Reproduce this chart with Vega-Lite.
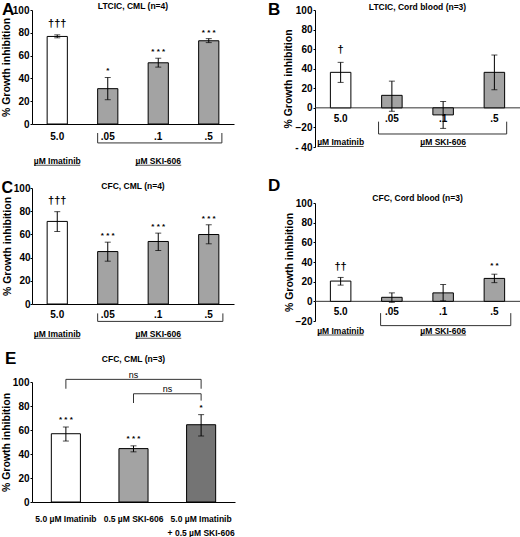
{
  "$schema": "https://vega.github.io/schema/vega-lite/v6.json",
  "padding": {"left": 1, "top": 0, "right": 0, "bottom": 0},
  "config": {
    "font": "Liberation Sans",
    "view": {"stroke": null},
    "axis": {"grid": false, "domainColor": "black", "tickColor": "black", "labelColor": "black", "titleColor": "black", "labelFontWeight": "bold", "titleFontWeight": "bold", "labelFontSize": 10, "titleFontSize": 10.5, "labelOverlap": false},
    "axisY": {"tickSize": 2, "labelPadding": 1, "titlePadding": 1, "tickCount": 20},
    "axisX": {"ticks": false, "labelAngle": 0, "labelFontSize": 10},
    "title": {"fontSize": 8.5, "fontWeight": "bold", "color": "black"},
    "text": {"color": "black"}
  },
  "datasets": {
    "panels": [{"panel": "A"}, {"panel": "B"}, {"panel": "C"}, {"panel": "D"}, {"panel": "E"}],
    "groups": [{"group": "µM Imatinib", "dose": "5.0"}, {"group": "µM SKI-606", "dose": ".1"}],
    "A": [
      {"dose": "5.0", "drug": "Imatinib", "value": 76.8, "lo": 75.6, "hi": 78.2, "sig": "†††"},
      {"dose": ".05", "drug": "SKI-606", "value": 31, "lo": 21.3, "hi": 40.8, "sig": "*"},
      {"dose": ".1", "drug": "SKI-606", "value": 53.7, "lo": 49.9, "hi": 57.7, "sig": "* * *"},
      {"dose": ".5", "drug": "SKI-606", "value": 73, "lo": 71.4, "hi": 74.9, "sig": "* * *"}
    ],
    "B": [
      {"dose": "5.0", "drug": "Imatinib", "value": 36.3, "lo": 26, "hi": 46.5, "sig": "†"},
      {"dose": ".05", "drug": "SKI-606", "value": 12.8, "lo": -3.5, "hi": 27.3, "sig": ""},
      {"dose": ".1", "drug": "SKI-606", "value": -7.2, "lo": -21, "hi": 6.5, "sig": ""},
      {"dose": ".5", "drug": "SKI-606", "value": 36.3, "lo": 18.5, "hi": 54, "sig": ""}
    ],
    "C": [
      {"dose": "5.0", "drug": "Imatinib", "value": 71.2, "lo": 62.5, "hi": 79.6, "sig": "†††"},
      {"dose": ".05", "drug": "SKI-606", "value": 45.2, "lo": 36.9, "hi": 53.3, "sig": "* * *"},
      {"dose": ".1", "drug": "SKI-606", "value": 53.9, "lo": 46.1, "hi": 61.1, "sig": "* * *"},
      {"dose": ".5", "drug": "SKI-606", "value": 59.9, "lo": 51.9, "hi": 68.3, "sig": "* * *"}
    ],
    "D": [
      {"dose": "5.0", "drug": "Imatinib", "value": 20.6, "lo": 16.5, "hi": 24.3, "sig": "††"},
      {"dose": ".05", "drug": "SKI-606", "value": 4.1, "lo": -1, "hi": 8.6, "sig": ""},
      {"dose": ".1", "drug": "SKI-606", "value": 8.6, "lo": 0.5, "hi": 17.1, "sig": ""},
      {"dose": ".5", "drug": "SKI-606", "value": 23.3, "lo": 19, "hi": 27.6, "sig": "* *"}
    ],
    "E": [
      {"treatment": "5.0 µM Imatinib", "drug": "Imatinib", "value": 56.9, "lo": 50.8, "hi": 62.5, "sig": "* * *"},
      {"treatment": "0.5 µM SKI-606", "drug": "SKI-606", "value": 44.5, "lo": 41.8, "hi": 46.8, "sig": "* * *"},
      {"treatment": "5.0 µM Imatinib + 0.5 µM SKI-606", "drug": "Combination", "value": 64.4, "lo": 55, "hi": 72.8, "sig": "*"}
    ],
    "ns": [
      {"pair": "upper", "from": "5.0 µM Imatinib", "to": "5.0 µM Imatinib + 0.5 µM SKI-606", "label": "ns"},
      {"pair": "lower", "from": "0.5 µM SKI-606", "to": "5.0 µM Imatinib + 0.5 µM SKI-606", "label": "ns"}
    ]
  },
  "spacing": 11,
  "vconcat": [
    {
      "spacing": 33,
      "hconcat": [
        {
          "width": 202,
          "height": 114,
          "title": {"text": "LTCIC, CML (n=4)", "offset": -10},
          "layer": [
            {
              "data": {"name": "A"},
              "mark": {"type": "bar", "stroke": "black", "strokeWidth": 1},
              "encoding": {
                "x": {"field": "dose", "type": "nominal", "scale": {"domain": ["5.0", ".05", ".1", ".5"], "paddingInner": 0.6, "paddingOuter": 0.3}, "axis": {"title": null, "labelPadding": 7}},
                "y": {"field": "value", "type": "quantitative", "title": "% Growth inhibition", "scale": {"domain": [0, 100], "nice": false}, "axis": {"values": [0, 20, 40, 60, 80, 100], "tickCount": 20}},
                "fill": {"field": "drug", "type": "nominal", "scale": {"domain": ["Imatinib", "SKI-606", "Combination"], "range": ["white", "#a3a3a3", "#747474"]}, "legend": null}
              }
            },
            {
              "data": {"name": "A"},
              "mark": {"type": "errorbar", "ticks": true, "size": 6, "thickness": 1, "color": "black"},
              "encoding": {"x": {"field": "dose", "type": "nominal"}, "y": {"field": "lo", "type": "quantitative", "title": "% Growth inhibition"}, "y2": {"field": "hi"}}
            },
            {
              "data": {"name": "A"},
              "transform": [{"filter": "indexof(datum.sig, '†') >= 0"}],
              "mark": {"type": "text", "fontSize": 11, "fontWeight": "bold", "baseline": "middle", "dy": -11},
              "encoding": {"x": {"field": "dose", "type": "nominal"}, "y": {"field": "hi", "type": "quantitative", "title": "% Growth inhibition"}, "text": {"field": "sig"}}
            },
            {
              "data": {"name": "A"},
              "transform": [{"filter": "indexof(datum.sig, '*') >= 0"}],
              "mark": {"type": "text", "fontSize": 8, "fontWeight": "bold", "baseline": "middle", "dy": -6},
              "encoding": {"x": {"field": "dose", "type": "nominal"}, "y": {"field": "hi", "type": "quantitative", "title": "% Growth inhibition"}, "text": {"field": "sig"}}
            },
            {
              "data": {"name": "panels"},
              "transform": [{"filter": "datum.panel == 'A'"}],
              "mark": {"type": "text", "fontSize": 17, "fontWeight": "bold", "align": "left", "baseline": "alphabetic", "dx": -45.2, "dy": 4.5},
              "encoding": {"x": {"datum": "5.0", "type": "nominal", "bandPosition": 0}, "y": {"datum": 100}, "text": {"field": "panel"}}
            },
            {
              "data": {"name": "panels"},
              "transform": [{"filter": "datum.panel == 'A'"}],
              "mark": {"type": "rule", "color": "#333"},
              "encoding": {"x": {"datum": ".05", "type": "nominal", "bandPosition": 0}, "x2": {"datum": ".5", "bandPosition": 1.15}, "y": {"datum": -16.6}}
            },
            {
              "data": {"name": "panels"},
              "transform": [{"filter": "datum.panel == 'A'"}],
              "mark": {"type": "rule", "color": "#333"},
              "encoding": {"x": {"datum": ".05", "type": "nominal", "bandPosition": 0}, "y": {"datum": -7.9}, "y2": {"datum": -16.6}}
            },
            {
              "data": {"name": "panels"},
              "transform": [{"filter": "datum.panel == 'A'"}],
              "mark": {"type": "rule", "color": "#333"},
              "encoding": {"x": {"datum": ".5", "type": "nominal", "bandPosition": 1.15}, "y": {"datum": -7.9}, "y2": {"datum": -16.6}}
            },
            {
              "data": {"name": "groups"},
              "mark": {"type": "text", "fontSize": 8.5, "fontWeight": "bold", "baseline": "middle"},
              "encoding": {"x": {"field": "dose", "type": "nominal"}, "y": {"datum": -32.1}, "text": {"field": "group"}}
            },
            {
              "data": {"name": "groups"},
              "mark": {"type": "tick", "size": 46, "thickness": 1, "color": "black"},
              "encoding": {"x": {"field": "dose", "type": "nominal"}, "y": {"datum": -36.2}}
            }
          ]
        },
        {
          "width": 205,
          "height": 137,
          "title": {"text": "LTCIC, Cord blood (n=3)", "offset": -10},
          "layer": [
            {
              "data": {"name": "panels"},
              "transform": [{"filter": "datum.panel == 'B'"}],
              "mark": {"type": "rule", "color": "#333"},
              "encoding": {"y": {"datum": 0}}
            },
            {
              "data": {"name": "B"},
              "mark": {"type": "bar", "stroke": "black", "strokeWidth": 1},
              "encoding": {
                "x": {"field": "dose", "type": "nominal", "scale": {"domain": ["5.0", ".05", ".1", ".5"], "paddingInner": 0.6, "paddingOuter": 0.3}, "axis": null},
                "y": {"field": "value", "type": "quantitative", "title": "% Growth inhibition", "scale": {"domain": [-40, 100], "nice": false}, "axis": {"values": [-40, -20, 0, 20, 40, 60, 80, 100], "tickCount": 20, "labelExpr": "datum.value == -40 ? '- 40' : datum.label"}},
                "fill": {"field": "drug", "type": "nominal", "scale": {"domain": ["Imatinib", "SKI-606", "Combination"], "range": ["white", "#a3a3a3", "#747474"]}, "legend": null}
              }
            },
            {
              "data": {"name": "B"},
              "mark": {"type": "errorbar", "ticks": true, "size": 6, "thickness": 1, "color": "black"},
              "encoding": {"x": {"field": "dose", "type": "nominal"}, "y": {"field": "lo", "type": "quantitative", "title": "% Growth inhibition"}, "y2": {"field": "hi"}}
            },
            {
              "data": {"name": "B"},
              "transform": [{"filter": "indexof(datum.sig, '†') >= 0"}],
              "mark": {"type": "text", "fontSize": 11, "fontWeight": "bold", "baseline": "middle", "dy": -12},
              "encoding": {"x": {"field": "dose", "type": "nominal"}, "y": {"field": "hi", "type": "quantitative", "title": "% Growth inhibition"}, "text": {"field": "sig"}}
            },
            {
              "data": {"name": "B"},
              "mark": {"type": "text", "fontSize": 10, "fontWeight": "bold", "baseline": "middle", "dy": 11},
              "encoding": {"x": {"field": "dose", "type": "nominal"}, "y": {"datum": 0}, "text": {"field": "dose"}}
            },
            {
              "data": {"name": "panels"},
              "transform": [{"filter": "datum.panel == 'B'"}],
              "mark": {"type": "text", "fontSize": 17, "fontWeight": "bold", "align": "left", "baseline": "alphabetic", "dx": -62.4, "dy": 5},
              "encoding": {"x": {"datum": "5.0", "type": "nominal", "bandPosition": 0}, "y": {"datum": 100}, "text": {"field": "panel"}}
            },
            {
              "data": {"name": "panels"},
              "transform": [{"filter": "datum.panel == 'B'"}],
              "mark": {"type": "rule", "color": "#333"},
              "encoding": {"x": {"datum": ".05", "type": "nominal", "bandPosition": -0.15}, "x2": {"datum": ".5", "bandPosition": 1.1}, "y": {"datum": -26.7}}
            },
            {
              "data": {"name": "panels"},
              "transform": [{"filter": "datum.panel == 'B'"}],
              "mark": {"type": "rule", "color": "#333"},
              "encoding": {"x": {"datum": ".05", "type": "nominal", "bandPosition": -0.15}, "y": {"datum": -14.1}, "y2": {"datum": -26.7}}
            },
            {
              "data": {"name": "panels"},
              "transform": [{"filter": "datum.panel == 'B'"}],
              "mark": {"type": "rule", "color": "#333"},
              "encoding": {"x": {"datum": ".5", "type": "nominal", "bandPosition": 1.1}, "y": {"datum": -14.1}, "y2": {"datum": -26.7}}
            },
            {
              "data": {"name": "groups"},
              "mark": {"type": "text", "fontSize": 8.5, "fontWeight": "bold", "baseline": "middle"},
              "encoding": {"x": {"field": "dose", "type": "nominal"}, "y": {"datum": -34.6}, "text": {"field": "group"}}
            },
            {
              "data": {"name": "groups"},
              "mark": {"type": "tick", "size": 46, "thickness": 1, "color": "black"},
              "encoding": {"x": {"field": "dose", "type": "nominal"}, "y": {"datum": -39.4}}
            }
          ]
        }
      ]
    },
    {
      "spacing": 33,
      "hconcat": [
        {
          "width": 202,
          "height": 116,
          "title": {"text": "CFC, CML (n=4)", "offset": -10},
          "layer": [
            {
              "data": {"name": "C"},
              "mark": {"type": "bar", "stroke": "black", "strokeWidth": 1},
              "encoding": {
                "x": {"field": "dose", "type": "nominal", "scale": {"domain": ["5.0", ".05", ".1", ".5"], "paddingInner": 0.6, "paddingOuter": 0.3}, "axis": {"title": null, "labelPadding": 5}},
                "y": {"field": "value", "type": "quantitative", "title": "% Growth inhibition", "scale": {"domain": [0, 100], "nice": false}, "axis": {"values": [0, 20, 40, 60, 80, 100], "tickCount": 20, "labelPadding": 0}},
                "fill": {"field": "drug", "type": "nominal", "scale": {"domain": ["Imatinib", "SKI-606", "Combination"], "range": ["white", "#a3a3a3", "#747474"]}, "legend": null}
              }
            },
            {
              "data": {"name": "C"},
              "mark": {"type": "errorbar", "ticks": true, "size": 6, "thickness": 1, "color": "black"},
              "encoding": {"x": {"field": "dose", "type": "nominal"}, "y": {"field": "lo", "type": "quantitative", "title": "% Growth inhibition"}, "y2": {"field": "hi"}}
            },
            {
              "data": {"name": "C"},
              "transform": [{"filter": "indexof(datum.sig, '†') >= 0"}],
              "mark": {"type": "text", "fontSize": 11, "fontWeight": "bold", "baseline": "middle", "dy": -11},
              "encoding": {"x": {"field": "dose", "type": "nominal"}, "y": {"field": "hi", "type": "quantitative", "title": "% Growth inhibition"}, "text": {"field": "sig"}}
            },
            {
              "data": {"name": "C"},
              "transform": [{"filter": "indexof(datum.sig, '*') >= 0"}],
              "mark": {"type": "text", "fontSize": 8, "fontWeight": "bold", "baseline": "middle", "dy": -6},
              "encoding": {"x": {"field": "dose", "type": "nominal"}, "y": {"field": "hi", "type": "quantitative", "title": "% Growth inhibition"}, "text": {"field": "sig"}}
            },
            {
              "data": {"name": "panels"},
              "transform": [{"filter": "datum.panel == 'C'"}],
              "mark": {"type": "text", "fontSize": 16, "fontWeight": "bold", "align": "left", "baseline": "alphabetic", "dx": -45.65, "dy": 5},
              "encoding": {"x": {"datum": "5.0", "type": "nominal", "bandPosition": 0}, "y": {"datum": 100}, "text": {"field": "panel"}}
            },
            {
              "data": {"name": "panels"},
              "transform": [{"filter": "datum.panel == 'C'"}],
              "mark": {"type": "rule", "color": "#333"},
              "encoding": {"x": {"datum": ".05", "type": "nominal", "bandPosition": 0}, "x2": {"datum": ".5", "bandPosition": 1.2}, "y": {"datum": -15}}
            },
            {
              "data": {"name": "panels"},
              "transform": [{"filter": "datum.panel == 'C'"}],
              "mark": {"type": "rule", "color": "#333"},
              "encoding": {"x": {"datum": ".05", "type": "nominal", "bandPosition": 0}, "y": {"datum": -8.1}, "y2": {"datum": -15}}
            },
            {
              "data": {"name": "panels"},
              "transform": [{"filter": "datum.panel == 'C'"}],
              "mark": {"type": "rule", "color": "#333"},
              "encoding": {"x": {"datum": ".5", "type": "nominal", "bandPosition": 1.2}, "y": {"datum": -8.1}, "y2": {"datum": -15}}
            },
            {
              "data": {"name": "groups"},
              "mark": {"type": "text", "fontSize": 8.5, "fontWeight": "bold", "baseline": "middle"},
              "encoding": {"x": {"field": "dose", "type": "nominal"}, "y": {"datum": -26}, "text": {"field": "group"}}
            },
            {
              "data": {"name": "groups"},
              "mark": {"type": "tick", "size": 46, "thickness": 1, "color": "black"},
              "encoding": {"x": {"field": "dose", "type": "nominal"}, "y": {"datum": -29.6}}
            }
          ]
        },
        {
          "width": 205,
          "height": 133,
          "title": {"text": "CFC, Cord blood (n=3)", "offset": -25},
          "layer": [
            {
              "data": {"name": "panels"},
              "transform": [{"filter": "datum.panel == 'D'"}],
              "mark": {"type": "rule", "color": "#333"},
              "encoding": {"y": {"datum": 0}}
            },
            {
              "data": {"name": "D"},
              "mark": {"type": "bar", "stroke": "black", "strokeWidth": 1},
              "encoding": {
                "x": {"field": "dose", "type": "nominal", "scale": {"domain": ["5.0", ".05", ".1", ".5"], "paddingInner": 0.6, "paddingOuter": 0.3}, "axis": null},
                "y": {"field": "value", "type": "quantitative", "title": "% Growth inhibition", "scale": {"domain": [-20, 100], "nice": false, "range": [133, 15]}, "axis": {"values": [-20, 0, 20, 40, 60, 80, 100], "tickCount": 20}},
                "fill": {"field": "drug", "type": "nominal", "scale": {"domain": ["Imatinib", "SKI-606", "Combination"], "range": ["white", "#a3a3a3", "#747474"]}, "legend": null}
              }
            },
            {
              "data": {"name": "D"},
              "mark": {"type": "errorbar", "ticks": true, "size": 6, "thickness": 1, "color": "black"},
              "encoding": {"x": {"field": "dose", "type": "nominal"}, "y": {"field": "lo", "type": "quantitative", "title": "% Growth inhibition"}, "y2": {"field": "hi"}}
            },
            {
              "data": {"name": "D"},
              "transform": [{"filter": "indexof(datum.sig, '†') >= 0"}],
              "mark": {"type": "text", "fontSize": 11, "fontWeight": "bold", "baseline": "middle", "dy": -10},
              "encoding": {"x": {"field": "dose", "type": "nominal"}, "y": {"field": "hi", "type": "quantitative", "title": "% Growth inhibition"}, "text": {"field": "sig"}}
            },
            {
              "data": {"name": "D"},
              "transform": [{"filter": "indexof(datum.sig, '*') >= 0"}],
              "mark": {"type": "text", "fontSize": 8, "fontWeight": "bold", "baseline": "middle", "dy": -8},
              "encoding": {"x": {"field": "dose", "type": "nominal"}, "y": {"field": "hi", "type": "quantitative", "title": "% Growth inhibition"}, "text": {"field": "sig"}}
            },
            {
              "data": {"name": "D"},
              "mark": {"type": "text", "fontSize": 10, "fontWeight": "bold", "baseline": "middle", "dy": 10.6},
              "encoding": {"x": {"field": "dose", "type": "nominal"}, "y": {"datum": 0}, "text": {"field": "dose"}}
            },
            {
              "data": {"name": "panels"},
              "transform": [{"filter": "datum.panel == 'D'"}],
              "mark": {"type": "text", "fontSize": 17, "fontWeight": "bold", "align": "left", "baseline": "alphabetic", "dx": -62.4, "dy": -12},
              "encoding": {"x": {"datum": "5.0", "type": "nominal", "bandPosition": 0}, "y": {"datum": 100}, "text": {"field": "panel"}}
            },
            {
              "data": {"name": "panels"},
              "transform": [{"filter": "datum.panel == 'D'"}],
              "mark": {"type": "rule", "color": "#333"},
              "encoding": {"x": {"datum": ".05", "type": "nominal", "bandPosition": -0.05}, "x2": {"datum": ".5", "bandPosition": 1.3}, "y": {"datum": -24.7}}
            },
            {
              "data": {"name": "panels"},
              "transform": [{"filter": "datum.panel == 'D'"}],
              "mark": {"type": "rule", "color": "#333"},
              "encoding": {"x": {"datum": ".05", "type": "nominal", "bandPosition": -0.05}, "y": {"datum": -12}, "y2": {"datum": -24.7}}
            },
            {
              "data": {"name": "panels"},
              "transform": [{"filter": "datum.panel == 'D'"}],
              "mark": {"type": "rule", "color": "#333"},
              "encoding": {"x": {"datum": ".5", "type": "nominal", "bandPosition": 1.3}, "y": {"datum": -12}, "y2": {"datum": -24.7}}
            },
            {
              "data": {"name": "groups"},
              "mark": {"type": "text", "fontSize": 8.5, "fontWeight": "bold", "baseline": "middle"},
              "encoding": {"x": {"field": "dose", "type": "nominal"}, "y": {"datum": -30.1}, "text": {"field": "group"}}
            },
            {
              "data": {"name": "groups"},
              "mark": {"type": "tick", "size": 46, "thickness": 1, "color": "black"},
              "encoding": {"x": {"field": "dose", "type": "nominal"}, "y": {"datum": -34.2}}
            }
          ]
        }
      ]
    },
    {
      "width": 203,
      "height": 120,
      "title": {"text": "CFC, CML (n=3)", "offset": -13},
      "layer": [
        {
          "data": {"name": "E"},
          "mark": {"type": "bar", "stroke": "black", "strokeWidth": 1},
          "encoding": {
            "x": {"field": "treatment", "type": "nominal", "scale": {"domain": ["5.0 µM Imatinib", "0.5 µM SKI-606", "5.0 µM Imatinib + 0.5 µM SKI-606"], "paddingInner": 0.57, "paddingOuter": 0.286}, "axis": {"title": null, "labelPadding": 12, "labelFontSize": 8.5, "labelLineHeight": 14.5, "labelExpr": "indexof(datum.label, ' + ') > 0 ? [substring(datum.label, 0, indexof(datum.label, ' + ')), substring(datum.label, indexof(datum.label, ' + ') + 1)] : datum.label"}},
            "y": {"field": "value", "type": "quantitative", "title": "% Growth inhibition", "scale": {"domain": [0, 100], "nice": false}, "axis": {"values": [0, 20, 40, 60, 80, 100], "tickCount": 20}},
            "fill": {"field": "drug", "type": "nominal", "scale": {"domain": ["Imatinib", "SKI-606", "Combination"], "range": ["white", "#a3a3a3", "#747474"]}, "legend": null}
          }
        },
        {
          "data": {"name": "E"},
          "mark": {"type": "errorbar", "ticks": true, "size": 6, "thickness": 1, "color": "black"},
          "encoding": {"x": {"field": "treatment", "type": "nominal"}, "y": {"field": "lo", "type": "quantitative", "title": "% Growth inhibition"}, "y2": {"field": "hi"}}
        },
        {
          "data": {"name": "E"},
          "mark": {"type": "text", "fontSize": 8, "fontWeight": "bold", "baseline": "middle", "dy": -7},
          "encoding": {"x": {"field": "treatment", "type": "nominal"}, "y": {"field": "hi", "type": "quantitative", "title": "% Growth inhibition"}, "text": {"field": "sig"}}
        },
        {
          "data": {"name": "panels"},
          "transform": [{"filter": "datum.panel == 'E'"}],
          "mark": {"type": "text", "fontSize": 17, "fontWeight": "bold", "align": "left", "baseline": "alphabetic", "dx": -46.3, "dy": -18},
          "encoding": {"x": {"datum": "5.0 µM Imatinib", "type": "nominal", "bandPosition": 0}, "y": {"datum": 100}, "text": {"field": "panel"}}
        },
        {
          "data": {"name": "ns"},
          "transform": [{"filter": "datum.pair == 'upper'"}],
          "mark": {"type": "rule", "color": "#333"},
          "encoding": {"x": {"field": "from", "type": "nominal"}, "x2": {"field": "to"}, "y": {"datum": 102.2}}
        },
        {
          "data": {"name": "ns"},
          "transform": [{"filter": "datum.pair == 'upper'"}],
          "mark": {"type": "rule", "color": "#333"},
          "encoding": {"x": {"field": "from", "type": "nominal"}, "y": {"datum": 102.2}, "y2": {"datum": 94.4}}
        },
        {
          "data": {"name": "ns"},
          "transform": [{"filter": "datum.pair == 'upper'"}],
          "mark": {"type": "rule", "color": "#333"},
          "encoding": {"x": {"field": "to", "type": "nominal"}, "y": {"datum": 102.2}, "y2": {"datum": 94.4}}
        },
        {
          "data": {"name": "ns"},
          "transform": [{"filter": "datum.pair == 'upper'"}],
          "mark": {"type": "text", "fontSize": 9, "baseline": "middle"},
          "encoding": {"x": {"datum": "0.5 µM SKI-606", "type": "nominal"}, "y": {"datum": 106}, "text": {"field": "label"}}
        },
        {
          "data": {"name": "ns"},
          "transform": [{"filter": "datum.pair == 'lower'"}],
          "mark": {"type": "rule", "color": "#333"},
          "encoding": {"x": {"field": "from", "type": "nominal"}, "x2": {"field": "to"}, "y": {"datum": 90.2}}
        },
        {
          "data": {"name": "ns"},
          "transform": [{"filter": "datum.pair == 'lower'"}],
          "mark": {"type": "rule", "color": "#333"},
          "encoding": {"x": {"field": "from", "type": "nominal"}, "y": {"datum": 90.2}, "y2": {"datum": 82.5}}
        },
        {
          "data": {"name": "ns"},
          "transform": [{"filter": "datum.pair == 'lower'"}],
          "mark": {"type": "rule", "color": "#333"},
          "encoding": {"x": {"field": "to", "type": "nominal"}, "y": {"datum": 90.2}, "y2": {"datum": 84.5}}
        },
        {
          "data": {"name": "ns"},
          "transform": [{"filter": "datum.pair == 'lower'"}],
          "mark": {"type": "text", "fontSize": 9, "baseline": "middle"},
          "encoding": {"x": {"field": "to", "type": "nominal", "bandPosition": -0.66}, "y": {"datum": 94.4}, "text": {"field": "label"}}
        }
      ]
    }
  ]
}
